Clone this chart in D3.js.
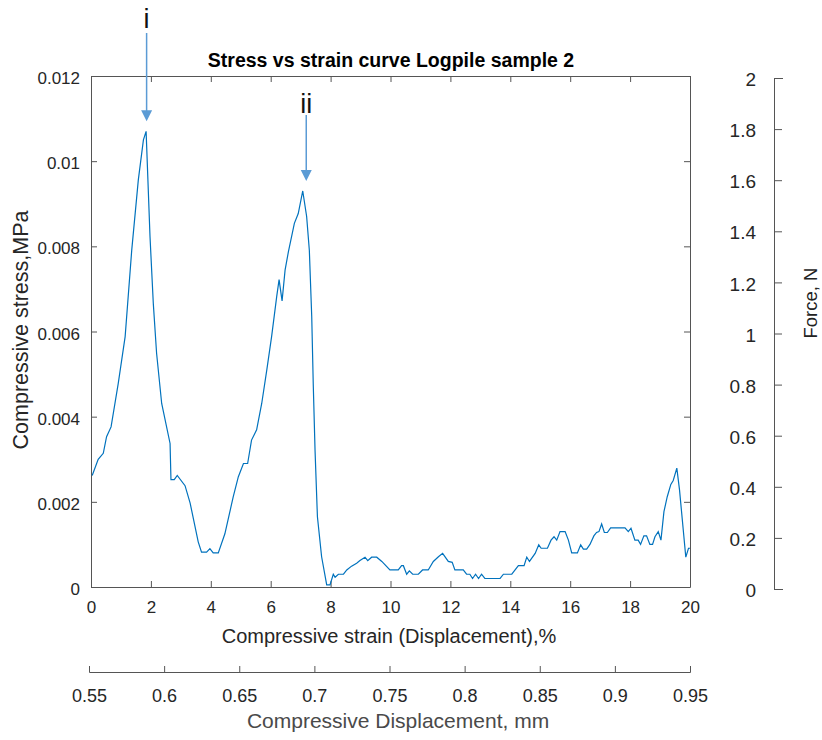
<!DOCTYPE html>
<html>
<head>
<meta charset="utf-8">
<script src="https://cdn.jsdelivr.net/npm/d3@7"></script>
<style>
  body { margin: 0; background: #fff; }
  svg { font-family: "Liberation Sans", Arial, sans-serif; }
  .ax path, .ax line { stroke: #555; }
  .ax text { fill: #262626; font-size: 17px; }
</style>
</head>
<body>
<svg id="chart" width="822" height="740"></svg>
<script>
// strain (%) and stress (MPa)
var strain = [0.04, 0.24, 0.41, 0.52, 0.67, 0.91, 1.14, 1.36, 1.58, 1.75, 1.84, 1.97, 2.08, 2.19, 2.36, 2.64, 2.67, 2.78, 2.88, 3.14, 3.31, 3.58, 3.69, 3.86, 3.97, 4.08, 4.25, 4.47, 4.75, 4.92, 5.09, 5.23, 5.36, 5.53, 5.70, 5.87, 6.03, 6.20, 6.28, 6.38, 6.48, 6.59, 6.79, 6.92, 7.07, 7.20, 7.29, 7.37, 7.42, 7.48, 7.56, 7.70, 7.87, 7.98, 8.09, 8.15, 8.26, 8.43, 8.54, 8.70, 8.87, 8.98, 9.15, 9.24, 9.37, 9.54, 9.71, 9.98, 10.26, 10.37, 10.43, 10.54, 10.63, 10.74, 10.93, 11.07, 11.26, 11.43, 11.60, 11.74, 11.93, 12.06, 12.15, 12.43, 12.54, 12.65, 12.74, 12.84, 12.94, 13.04, 13.15, 13.66, 13.77, 14.05, 14.27, 14.46, 14.55, 14.64, 14.83, 14.95, 15.03, 15.24, 15.36, 15.46, 15.55, 15.66, 15.83, 15.94, 16.05, 16.24, 16.35, 16.44, 16.55, 16.66, 16.79, 16.88, 16.96, 17.05, 17.14, 17.24, 17.35, 17.83, 17.94, 18.03, 18.16, 18.27, 18.35, 18.46, 18.55, 18.66, 18.75, 18.83, 18.94, 19.03, 19.13, 19.24, 19.36, 19.44, 19.56, 19.65, 19.86, 19.95, 20.0];
var stress = [0.00262, 0.0030, 0.00314, 0.00353, 0.00376, 0.00478, 0.00588, 0.00791, 0.00956, 0.0105, 0.0107, 0.00823, 0.00666, 0.00549, 0.00431, 0.00337, 0.00252, 0.00252, 0.00262, 0.00238, 0.00197, 0.00106, 0.00082, 0.00082, 0.00090, 0.00080, 0.00080, 0.00125, 0.00212, 0.00259, 0.00290, 0.0029, 0.00345, 0.00369, 0.00431, 0.0051, 0.00588, 0.00682, 0.00722, 0.00672, 0.00744, 0.00787, 0.00854, 0.00877, 0.00930, 0.0087, 0.00791, 0.00635, 0.00478, 0.00322, 0.00165, 0.00071, 0.00005, 0.00005, 0.0003, 0.00023, 0.0003, 0.0003, 0.0004, 0.00049, 0.00056, 0.00062, 0.0007, 0.00062, 0.0007, 0.0007, 0.0006, 0.0004, 0.0004, 0.0005, 0.0005, 0.0003, 0.00038, 0.0003, 0.0003, 0.0004, 0.0004, 0.0006, 0.00071, 0.00079, 0.0006, 0.00058, 0.0004, 0.0004, 0.0003, 0.0003, 0.0002, 0.0003, 0.0002, 0.0003, 0.0002, 0.0002, 0.0003, 0.0003, 0.0005, 0.0005, 0.0007, 0.0006, 0.00079, 0.00099, 0.00091, 0.00091, 0.0011, 0.00118, 0.0011, 0.0013, 0.0013, 0.0011, 0.0008, 0.0008, 0.00099, 0.00089, 0.00089, 0.001, 0.0012, 0.00128, 0.0013, 0.00148, 0.00128, 0.00128, 0.00139, 0.00139, 0.0013, 0.00138, 0.0011, 0.0011, 0.001, 0.0012, 0.0012, 0.001, 0.001, 0.00118, 0.0013, 0.0011, 0.00177, 0.00212, 0.00241, 0.0025, 0.00279, 0.00228, 0.0007, 0.00091, 0.00091];

var strainTicks = [0, 2, 4, 6, 8, 10, 12, 14, 16, 18, 20];
var stressTicks = [0, 0.002, 0.004, 0.006, 0.008, 0.01, 0.012];
var forceTicks = [0, 0.2, 0.4, 0.6, 0.8, 1, 1.2, 1.4, 1.6, 1.8, 2];
var dispTicks = [0.55, 0.6, 0.65, 0.7, 0.75, 0.8, 0.85, 0.9, 0.95];

// peaks marked with arrows
var peaks = [
  {label: "i", x: 1.84, y: 0.0107, dx: 0.5, lineTop: 33, textY: 28},
  {label: "ii", x: 7.07, y: 0.0093, dx: 3.5, lineTop: 115, textY: 113}
];

var svg = d3.select("#chart");
var pLeft = 91, pRight = 690, pTop = 76, pBottom = 587;

var x = d3.scaleLinear().domain([0, 20]).range([pLeft, pRight]);
var y = d3.scaleLinear().domain([0, 0.012]).range([pBottom, pTop]);
var yForce = d3.scaleLinear().domain([0, 2]).range([589, 78]);
var xDisp = d3.scaleLinear().domain([0.55, 0.95]).range([89, 690]);

var fmt = function(d) { return String(+d.toFixed(4)); };

// main box with ticks on all four sides
svg.append("g").attr("class", "ax").attr("transform", "translate(0," + pBottom + ")")
  .call(d3.axisBottom(x).tickValues(strainTicks).tickSize(-6).tickSizeOuter(0).tickPadding(14).tickFormat(fmt));
svg.append("g").attr("class", "ax").attr("transform", "translate(0," + pTop + ")")
  .call(d3.axisTop(x).tickValues(strainTicks).tickSize(-6).tickSizeOuter(0).tickFormat(""));
svg.append("g").attr("class", "ax").attr("transform", "translate(" + pLeft + ",0)")
  .call(d3.axisLeft(y).tickValues(stressTicks).tickSize(-6).tickSizeOuter(0).tickPadding(11).tickFormat(fmt))
  .selectAll("text").attr("dy", "0.45em");
svg.append("g").attr("class", "ax").attr("transform", "translate(" + pRight + ",0)")
  .call(d3.axisRight(y).tickValues(stressTicks).tickSize(-6).tickSizeOuter(0).tickFormat(""));

// force axis on the right
svg.append("g").attr("class", "ax").attr("transform", "translate(774,0)")
  .call(d3.axisLeft(yForce).tickValues(forceTicks).tickSize(-8).tickSizeOuter(-9).tickPadding(18).tickFormat(fmt))
  .selectAll("text").attr("fill", "#333").style("font-size", "19px").attr("dy", "0.4em");

// displacement axis below
svg.append("g").attr("class", "ax").attr("transform", "translate(0,672)")
  .call(d3.axisTop(xDisp).tickValues(dispTicks).tickSize(6).tickSizeOuter(6).tickPadding(-36).tickFormat(fmt))
  .selectAll("text").attr("fill", "#2a3442").style("font-size", "18px");

// curve
svg.append("path")
  .datum(strain.map(function(s, i) { return [s, stress[i]]; }))
  .attr("fill", "none")
  .attr("stroke", "#0072BD")
  .attr("stroke-width", 1.2)
  .attr("d", d3.line().x(function(d) { return x(d[0]); }).y(function(d) { return y(d[1]); }));

// titles
svg.append("text").attr("x", 391).attr("y", 67).attr("text-anchor", "middle")
  .attr("font-weight", "bold").attr("font-size", 19.5).attr("fill", "#000")
  .text("Stress vs strain curve Logpile sample 2");
svg.append("text").attr("x", 389).attr("y", 643).attr("text-anchor", "middle")
  .attr("font-size", 20).attr("fill", "#262626")
  .text("Compressive strain (Displacement),%");
svg.append("text").attr("transform", "translate(28,330) rotate(-90)").attr("text-anchor", "middle")
  .attr("font-size", 21.5).attr("fill", "#262626")
  .text("Compressive stress,MPa");
svg.append("text").attr("transform", "translate(817,303) rotate(-90)").attr("text-anchor", "middle")
  .attr("font-size", 18.5).attr("fill", "#222")
  .text("Force, N");
svg.append("text").attr("x", 398).attr("y", 728).attr("text-anchor", "middle")
  .attr("font-size", 21).attr("fill", "#4a4a4a")
  .text("Compressive Displacement, mm");

// arrows to the peaks
var arr = svg.append("g").selectAll("g").data(peaks).enter().append("g");
arr.append("line")
  .attr("x1", function(d) { return x(d.x) + d.dx; }).attr("x2", function(d) { return x(d.x) + d.dx; })
  .attr("y1", function(d) { return d.lineTop; }).attr("y2", function(d) { return y(d.y) - 20; })
  .attr("stroke", "#5b9bd5").attr("stroke-width", 1.5);
arr.append("path")
  .attr("d", function(d) {
    var cx = x(d.x) + d.dx, ty = y(d.y) - 10;
    return "M" + (cx - 5.5) + "," + (ty - 11) + "L" + (cx + 5.5) + "," + (ty - 11) + "L" + cx + "," + ty + "Z";
  })
  .attr("fill", "#5b9bd5");
arr.append("text")
  .attr("x", function(d) { return x(d.x) + d.dx; }).attr("y", function(d) { return d.textY; })
  .attr("text-anchor", "middle").attr("font-size", 27).attr("fill", "#111")
  .text(function(d) { return d.label; });
</script>
</body>
</html>
